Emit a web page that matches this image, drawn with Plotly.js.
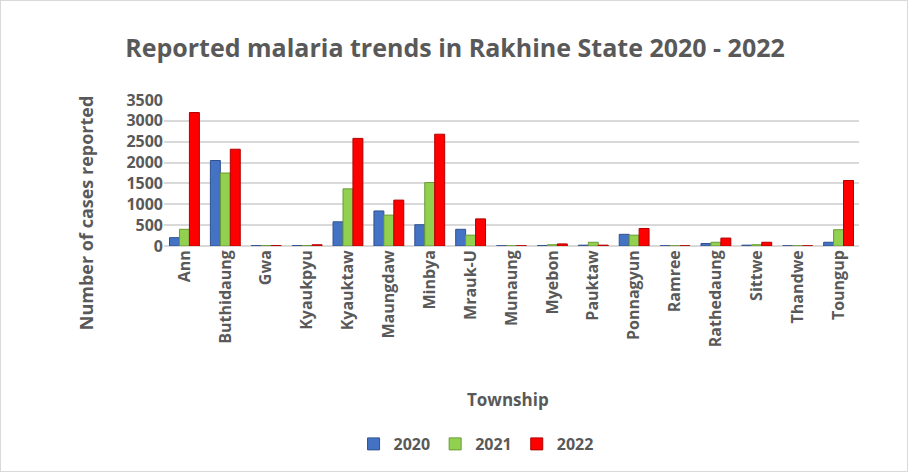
<!DOCTYPE html>
<html><head><meta charset="utf-8">
<script src="https://cdn.plot.ly/plotly-3.0.1.min.js"></script>
<style>html,body{margin:0;padding:0;background:#fff}#c{width:908px;height:472px;box-sizing:border-box;border:1px solid #d9d9d9}</style>
</head><body><div id="c"></div>
<script>
const townships = ["Ann","Buthidaung","Gwa","Kyaukpyu","Kyauktaw","Maungdaw","Minbya","Mrauk-U","Munaung","Myebon","Pauktaw","Ponnagyun","Ramree","Rathedaung","Sittwe","Thandwe","Toungup"];
const cases2020 = [200,2050,10,10,580,840,510,400,5,10,20,280,5,60,20,5,90];
const cases2021 = [400,1750,10,10,1370,740,1520,260,5,30,90,260,5,90,30,5,390];
const cases2022 = [3200,2320,10,30,2580,1100,2680,650,5,50,20,420,5,190,90,5,1570];
const seriesNames = ["2020","2021","2022"];
const colors = ["#4472c4","#92d050","#ff0000"];
const lineColors = ["#2f528f","#6a9a35","#b00000"];
const vals = [cases2020,cases2021,cases2022];
const font = "Open Sans, Liberation Sans, sans-serif";
const grey = "#595959";
const data = vals.map((v,i)=>({type:"bar",name:seriesNames[i],x:townships,y:v,
  marker:{color:colors[i],line:{color:lineColors[i],width:1}}}));
const layout = {
  width:908,height:472,
  margin:{l:163,r:50,t:99,b:227},
  paper_bgcolor:"rgba(0,0,0,0)",plot_bgcolor:"#fff",
  title:{text:"<b>Reported malaria trends in Rakhine State 2020 - 2022</b>",x:0.5,xanchor:"center",y:0.9,yanchor:"middle",
    font:{family:font,size:25,color:grey}},
  barmode:"group",bargap:0.27,bargroupgap:0,
  xaxis:{tickangle:-90,tickfont:{family:font,size:16,color:grey,weight:"bold"},showgrid:false,showline:false,ticks:"",ticklen:4},
  yaxis:{range:[0,3500],dtick:500,tickfont:{family:font,size:16,color:grey,weight:"bold"},gridcolor:"#d9d9d9",gridwidth:2,
    zeroline:true,zerolinecolor:"#d9d9d9",zerolinewidth:2,ticks:"",ticklen:6},
  annotations:[
    {text:"<b>Number of cases reported</b>",xref:"paper",yref:"paper",x:-0.112,y:0.226,textangle:-90,showarrow:false,
      xanchor:"center",yanchor:"middle",font:{family:font,size:18,color:grey}},
    {text:"<b>Township</b>",xref:"paper",yref:"paper",x:0.495,y:-1.048,showarrow:false,
      xanchor:"center",yanchor:"middle",font:{family:font,size:17,color:grey}}
  ],
  showlegend:true,
  legend:{orientation:"h",x:0.449,xanchor:"center",y:-1.356,yanchor:"middle",font:{family:font,size:16,color:grey,weight:"bold"},traceorder:"normal",itemwidth:30}
};
Plotly.newPlot("c",data,layout,{displayModeBar:false});
</script></body></html>
